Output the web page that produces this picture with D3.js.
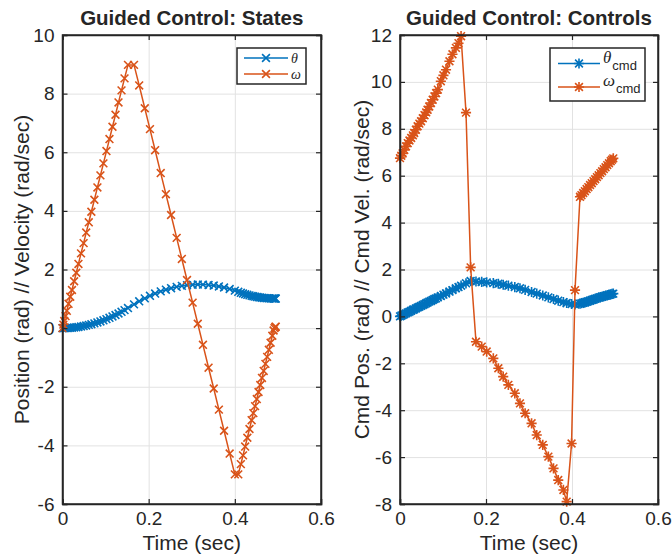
<!DOCTYPE html>
<html><head><meta charset="utf-8">
<script src="https://cdn.jsdelivr.net/npm/d3@7"></script>
<style>
body{margin:0;background:#fff}
svg text{font-family:"Liberation Sans",Arial,Helvetica,sans-serif;fill:#262626}
</style>
</head><body>
<svg id="chart" width="672" height="554"></svg>
<script>
// ---------- data ----------
const tS = [0, 0.002, 0.004, 0.007, 0.010, 0.014, 0.018, 0.022, 0.027, 0.032, 0.037, 0.043, 0.049, 0.055, 0.061, 0.067, 0.074, 0.081, 0.088, 0.095, 0.102, 0.109, 0.116, 0.123, 0.130, 0.137, 0.144, 0.152,
  0.166, 0.178, 0.191, 0.203, 0.215, 0.228, 0.240, 0.252, 0.265, 0.277, 0.289, 0.302, 0.314, 0.326, 0.339, 0.351, 0.363, 0.375, 0.388, 0.400, 0.408,
  0.414, 0.419, 0.424, 0.429, 0.434, 0.439, 0.443, 0.447, 0.451, 0.455, 0.459, 0.463, 0.467, 0.471, 0.475, 0.479, 0.483, 0.487, 0.490, 0.492, 0.494, 0.495];
const thetaS = [0, 0.000, 0.000, 0.001, 0.003, 0.006, 0.010, 0.014, 0.022, 0.030, 0.041, 0.055, 0.071, 0.090, 0.110, 0.133, 0.162, 0.194, 0.229, 0.267, 0.308, 0.352, 0.398, 0.448, 0.500, 0.556, 0.614, 0.684,
  0.810, 0.914, 1.016, 1.102, 1.179, 1.253, 1.312, 1.363, 1.408, 1.441, 1.465, 1.481, 1.487, 1.485, 1.472, 1.452, 1.423, 1.385, 1.334, 1.279, 1.239,
  1.205, 1.180, 1.157, 1.136, 1.117, 1.100, 1.087, 1.075, 1.064, 1.054, 1.045, 1.037, 1.030, 1.024, 1.019, 1.015, 1.012, 1.010, 1.009, 1.008, 1.008, 1.008];
const omegaS = [0, 0.12, 0.24, 0.41, 0.59, 0.83, 1.07, 1.30, 1.60, 1.89, 2.19, 2.55, 2.90, 3.26, 3.61, 3.97, 4.38, 4.80, 5.21, 5.62, 6.04, 6.45, 6.87, 7.28, 7.70, 8.11, 8.52, 8.98,
  8.98, 8.28, 7.50, 6.79, 6.07, 5.29, 4.57, 3.86, 3.08, 2.36, 1.64, 0.87, 0.15, -0.57, -1.35, -2.06, -2.78, -3.50, -4.28, -4.99, -4.99,
  -4.64, -4.34, -4.04, -3.74, -3.44, -3.14, -2.90, -2.66, -2.42, -2.18, -1.94, -1.70, -1.46, -1.22, -0.98, -0.74, -0.50, -0.26, -0.08, 0.00, 0.04, 0.05];

const tC = [0, 0.003, 0.006, 0.010, 0.014, 0.018, 0.022, 0.026, 0.030, 0.033, 0.037, 0.041, 0.045, 0.049, 0.053, 0.057, 0.061, 0.064, 0.068, 0.072, 0.076, 0.080, 0.084, 0.088, 0.095, 0.101, 0.107, 0.115, 0.122, 0.130, 0.136, 0.142,
  0.1535, 0.1643, 0.1767, 0.190, 0.2016, 0.217, 0.2287, 0.240, 0.252, 0.267, 0.279, 0.291, 0.306, 0.318, 0.332, 0.345, 0.357, 0.368, 0.380, 0.3876, 0.399, 0.407, 0.4186,
  0.422, 0.426, 0.430, 0.434, 0.438, 0.442, 0.446, 0.450, 0.454, 0.458, 0.462, 0.466, 0.470, 0.474, 0.478, 0.482, 0.486, 0.490, 0.493, 0.496];
const thetaC = [0.00, 0.03, 0.06, 0.09, 0.13, 0.17, 0.20, 0.24, 0.28, 0.30, 0.34, 0.38, 0.41, 0.45, 0.49, 0.52, 0.56, 0.59, 0.63, 0.66, 0.70, 0.74, 0.77, 0.81, 0.87, 0.93, 0.98, 1.06, 1.12, 1.20, 1.25, 1.31,
  1.41, 1.51, 1.49, 1.47, 1.45, 1.42, 1.39, 1.35, 1.31, 1.25, 1.20, 1.13, 1.04, 0.97, 0.89, 0.81, 0.74, 0.67, 0.61, 0.57, 0.53, 0.51, 0.54,
  0.56, 0.58, 0.60, 0.62, 0.64, 0.67, 0.70, 0.72, 0.75, 0.77, 0.80, 0.82, 0.84, 0.86, 0.88, 0.90, 0.92, 0.94, 0.96, 0.97];
const omegaC = [6.75, 6.85, 6.95, 7.10, 7.25, 7.39, 7.50, 7.61, 7.72, 7.82, 7.96, 8.11, 8.22, 8.32, 8.45, 8.58, 8.70, 8.81, 8.95, 9.10, 9.24, 9.38, 9.52, 9.67, 10.03, 10.28, 10.52, 10.88, 11.18, 11.45, 11.65, 11.95,
  8.69, 2.09, -1.08, -1.29, -1.50, -1.79, -2.21, -2.57, -2.92, -3.28, -3.71, -4.13, -4.56, -5.06, -5.48, -5.98, -6.48, -6.98, -7.40, -7.90, -5.42, 1.12, 5.10,
  5.17, 5.26, 5.34, 5.43, 5.51, 5.60, 5.68, 5.77, 5.85, 5.94, 6.02, 6.11, 6.19, 6.28, 6.36, 6.45, 6.53, 6.62, 6.68, 6.74];

const xTicks = [0, 0.2, 0.4, 0.6];
const xTickLabels = ["0", "0.2", "0.4", "0.6"];
const yTicksS = [-6, -4, -2, 0, 2, 4, 6, 8, 10];
const yTickLabelsS = ["-6", "-4", "-2", "0", "2", "4", "6", "8", "10"];
const yTicksC = [-8, -6, -4, -2, 0, 2, 4, 6, 8, 10, 12];
const yTickLabelsC = ["-8", "-6", "-4", "-2", "0", "2", "4", "6", "8", "10", "12"];

const BLUE = "#0072BD", ORANGE = "#D95319", AX = "#262626";

const svg = d3.select("#chart");

function markerPath(type, s) {
  const x = `M${-s},${-s}L${s},${s}M${-s},${s}L${s},${-s}`;
  if (type === "x") return x;
  const p = s * 1.3;
  return x + `M${-p},0L${p},0M0,${-p}L0,${p}`;
}

function panel(opt) {
  const g = svg.append("g");
  const x = d3.scaleLinear().domain([0, 0.6]).range([opt.x0, opt.x1]);
  const y = d3.scaleLinear().domain(opt.ydom).range([opt.y1, opt.y0]);
  const W = opt.x1 - opt.x0, H = opt.y1 - opt.y0;

  // grid
  g.append("g").attr("transform", `translate(0,${opt.y1})`)
    .call(d3.axisBottom(x).tickValues(xTicks).tickSize(-H).tickFormat(""))
    .call(a => { a.select(".domain").remove(); a.selectAll("line").attr("class", "grid").attr("stroke", "#e2e2e2").attr("stroke-width", 1); });
  g.append("g").attr("transform", `translate(${opt.x0},0)`)
    .call(d3.axisLeft(y).tickValues(opt.yticks).tickSize(-W).tickFormat(""))
    .call(a => { a.select(".domain").remove(); a.selectAll("line").attr("class", "grid").attr("stroke", "#e2e2e2").attr("stroke-width", 1); });

  // series
  opt.series.forEach(s => {
    const pts = opt.t.map((t, i) => [x(t), y(s.v[i])]);
    g.append("path").attr("d", d3.line()(pts)).attr("fill", "none")
      .attr("stroke", s.color).attr("stroke-width", 1.5);
    g.append("g").selectAll("path").data(pts).join("path")
      .attr("transform", d => `translate(${d[0]},${d[1]})`)
      .attr("d", markerPath(opt.marker, 3.9))
      .attr("fill", "none").attr("stroke", s.color).attr("stroke-width", 1.6);
  });

  // axes (ticks inward)
  const fs = "19px";
  g.append("g").attr("transform", `translate(0,${opt.y1})`)
    .call(d3.axisBottom(x).tickValues(xTicks).tickSize(-5).tickPadding(7.5).tickFormat((d, i) => xTickLabels[i]))
    .call(a => { a.selectAll("text").attr("font-size", fs).attr("font-family", null).attr("fill", AX); });
  g.append("g").attr("transform", `translate(0,${opt.y0})`)
    .call(d3.axisTop(x).tickValues(xTicks).tickSize(-5).tickFormat(""));
  g.append("g").attr("transform", `translate(${opt.x0},0)`)
    .call(d3.axisLeft(y).tickValues(opt.yticks).tickSize(-5).tickPadding(8).tickFormat((d, i) => opt.ylabels[i]))
    .call(a => { a.selectAll("text").attr("font-size", fs).attr("font-family", null).attr("fill", AX); });
  g.append("g").attr("transform", `translate(${opt.x1},0)`)
    .call(d3.axisRight(y).tickValues(opt.yticks).tickSize(-5).tickFormat(""));
  g.selectAll(".domain").attr("stroke", AX).attr("stroke-width", 1.5);
  g.selectAll(".tick line:not(.grid)").attr("stroke", AX).attr("stroke-width", 1.2);

  // box
  g.append("rect").attr("x", opt.x0).attr("y", opt.y0).attr("width", W).attr("height", H)
    .attr("fill", "none").attr("stroke", AX).attr("stroke-width", 1.5);

  // title
  g.append("text").attr("x", (opt.x0 + opt.x1) / 2).attr("y", 25).attr("text-anchor", "middle")
    .attr("font-size", "20.5px").attr("font-weight", "bold").attr("fill", "#000").text(opt.title);
  // x label
  g.append("text").attr("x", (opt.x0 + opt.x1) / 2).attr("y", 550).attr("text-anchor", "middle")
    .attr("font-size", "21px").text("Time (sec)");
  // y label
  g.append("text").attr("transform", `translate(${opt.ylx},${(opt.y0 + opt.y1) / 2}) rotate(-90)`)
    .attr("text-anchor", "middle").attr("font-size", "21px").text(opt.ylabel);

  // legend
  const L = opt.legend;
  g.append("rect").attr("x", L.x).attr("y", L.y).attr("width", L.w).attr("height", L.h)
    .attr("fill", "#fff").attr("stroke", AX).attr("stroke-width", 1.5);
  opt.series.forEach((s, i) => {
    const ly = L.ly0 + i * L.dy;
    g.append("line").attr("x1", L.lx0).attr("x2", L.lx1).attr("y1", ly).attr("y2", ly)
      .attr("stroke", s.color).attr("stroke-width", 1.5);
    g.append("path").attr("transform", `translate(${(L.lx0 + L.lx1) / 2},${ly})`)
      .attr("d", markerPath(opt.marker, 3.9)).attr("fill", "none")
      .attr("stroke", s.color).attr("stroke-width", 1.6);
    const tx = g.append("text").attr("x", L.lx1 + 3).attr("y", ly + L.tdy)
      .attr("font-size", L.fs);
    tx.append("tspan").attr("font-family", "'Liberation Serif','DejaVu Serif',serif")
      .attr("font-style", "italic").text(s.name);
    if (s.sub) tx.append("tspan").attr("dy", 7).attr("dx", 1).attr("font-size", "13px").text(s.sub);
  });
}

panel({
  x0: 62.5, x1: 321, y0: 35, y1: 504, ydom: [-6, 10],
  yticks: yTicksS, ylabels: yTickLabelsS, t: tS, marker: "x",
  title: "Guided Control: States",
  ylabel: "Position (rad) // Velocity (rad/sec)", ylx: 29,
  series: [{ v: thetaS, color: BLUE, name: "θ" }, { v: omegaS, color: ORANGE, name: "ω" }],
  legend: { x: 237, y: 48, w: 69, h: 36, lx0: 244, lx1: 288, ly0: 58, dy: 16, tdy: 4.5, fs: "14px" }
});
panel({
  x0: 400, x1: 658, y0: 35, y1: 504, ydom: [-8, 12],
  yticks: yTicksC, ylabels: yTickLabelsC, t: tC, marker: "*",
  title: "Guided Control: Controls",
  ylabel: "Cmd Pos. (rad) // Cmd Vel. (rad/sec)", ylx: 369,
  series: [{ v: thetaC, color: BLUE, name: "θ", sub: "cmd" }, { v: omegaC, color: ORANGE, name: "ω", sub: "cmd" }],
  legend: { x: 550, y: 48, w: 95, h: 53, lx0: 558, lx1: 600, ly0: 63.5, dy: 23.5, tdy: -1, fs: "17px" }
});
</script>
</body></html>
